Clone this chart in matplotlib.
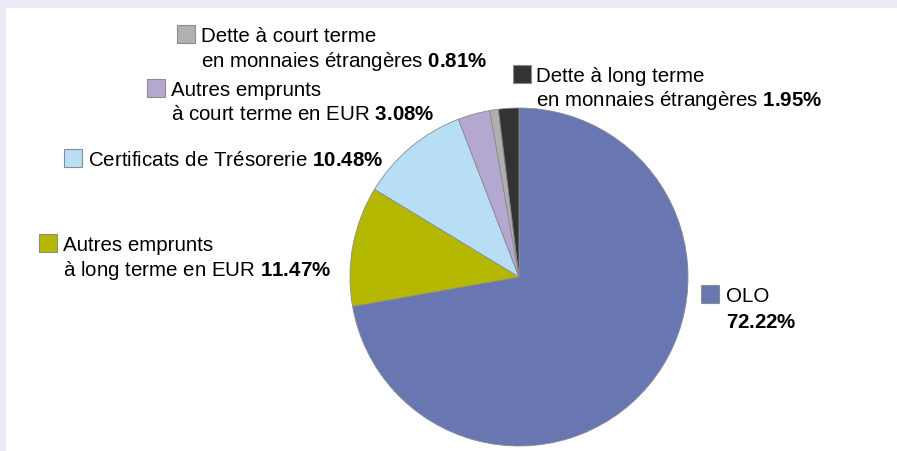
import matplotlib
matplotlib.use("Agg")
import matplotlib.pyplot as plt
from matplotlib.patches import Rectangle

plt.rcParams['font.family'] = ['Liberation Sans', 'DejaVu Sans']
plt.rcParams['mathtext.fontset'] = 'custom'
plt.rcParams['mathtext.rm'] = 'Liberation Sans'
plt.rcParams['mathtext.bf'] = 'Liberation Sans:bold'

categories = ["OLO",
              "Autres emprunts\nà long terme en EUR",
              "Certificats de Trésorerie",
              "Autres emprunts\nà court terme en EUR",
              "Dette à court terme\nen monnaies étrangères",
              "Dette à long terme\nen monnaies étrangères"]
values = [72.22, 11.47, 10.48, 3.08, 0.81, 1.95]
colors = ["#6877b2", "#b5b800", "#b8def5", "#b5a8d0", "#b0b0b0", "#333333"]

W, H = 897, 451
fig = plt.figure(figsize=(W / 100, H / 100), dpi=100, facecolor="#ebebf5")
ax = fig.add_axes([0, 0, 1, 1])

ax.add_patch(Rectangle((6, 0), W - 6, H - 8, facecolor="white", edgecolor="none", zorder=0))

cx, cy, r = 519, H - 277, 169
ax.pie(values, colors=colors, startangle=90, counterclock=False,
       center=(cx, cy), radius=r, frame=True,
       wedgeprops=dict(edgecolor="#8a8a8a", linewidth=0.6))
ax.set_xlim(0, W)
ax.set_ylim(0, H)
ax.set_aspect('equal')
ax.axis('off')

# (marker x, baseline of first line, text x, line step)
label_pos = [
    (701, 302, 726, 26),
    (39, 251, 63, 25),
    (64, 166, 88, 25),
    (147, 96, 171, 24),
    (177, 42, 201, 25),
    (513, 82, 536, 24),
]
fs = 14.8
msz = 18
for i, (cat, val, col) in enumerate(zip(categories, values, colors)):
    mx, by, tx, step = label_pos[i]
    ax.add_patch(Rectangle((mx, H - by - 1), msz, msz, facecolor=col,
                           edgecolor="#8c8c8c", linewidth=0.8, zorder=3))
    pct = r"$\mathbf{" + f"{val:.2f}" + r"\%}$"
    lines = cat.split("\n")
    if cat == "OLO":
        lines = [cat, pct]
    else:
        lines[-1] = lines[-1] + " " + pct
    for j, ln in enumerate(lines):
        ax.text(tx, H - (by + j * step), ln, fontsize=fs, ha='left', va='baseline',
                color="black", zorder=4)

fig.savefig("out.png", dpi=100, facecolor=fig.get_facecolor())
